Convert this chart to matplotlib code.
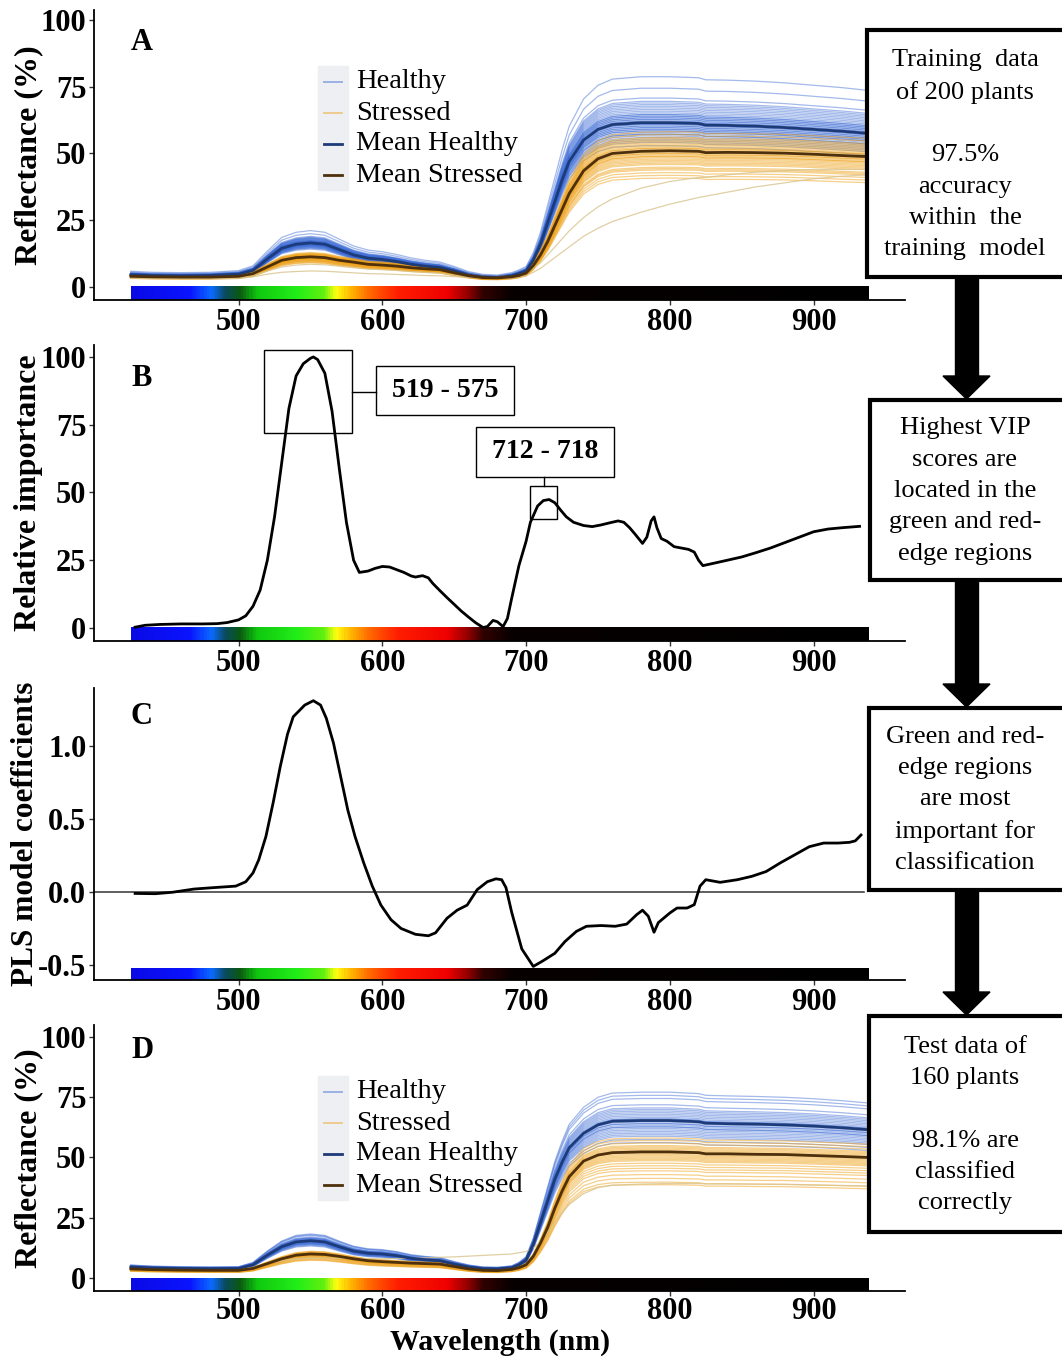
import numpy as np
import matplotlib
matplotlib.use("Agg")
import matplotlib.pyplot as plt
from matplotlib.colors import LinearSegmentedColormap
from matplotlib.patches import Rectangle, Polygon

W, H = 1062, 1356
SERIF = "Liberation Serif"

# ---------------- data ----------------
wl_refl = [425, 440, 460, 480, 500, 510, 520, 530, 540, 550, 560, 570, 580, 590, 600,
           610, 620, 630, 640, 650, 660, 670, 680, 690, 695, 700, 705, 710, 715, 720,
           725, 730, 740, 750, 760, 780, 800, 820, 825, 840, 860, 880, 900, 920, 938]

# Panel A (training data)
mean_healthy_A = [4.6, 4.3, 4.2, 4.3, 4.8, 6.2, 10.5, 14.5, 16.0, 16.5, 16.0, 14.0, 12.0, 10.8, 10.3,
                  9.5, 8.5, 7.8, 7.3, 6.0, 4.5, 3.7, 3.5, 4.2, 5.0, 6.0, 10.0, 16.0, 24.0, 32.0,
                  40.0, 47.0, 55.0, 59.0, 60.8, 61.5, 61.5, 61.2, 60.6, 60.5, 60.2, 59.7, 59.0, 58.3, 57.5]
mean_stressed_A = [4.0, 3.8, 3.7, 3.7, 4.0, 5.0, 7.5, 10.0, 11.0, 11.3, 11.0, 10.0, 9.3, 8.5, 8.2,
                   7.8, 7.2, 6.8, 6.5, 5.3, 4.2, 3.5, 3.4, 3.8, 4.3, 5.2, 8.0, 12.0, 17.0, 23.0,
                   29.0, 35.0, 43.5, 48.0, 50.0, 50.8, 51.0, 50.8, 50.3, 50.4, 50.3, 50.1, 49.7, 49.2, 48.8]
stressed_outlier1_A = [3.3, 3.2, 3.1, 3.1, 3.2, 3.8, 4.8, 5.5, 5.8, 6.0, 5.9, 5.6, 5.3, 5.0, 4.9,
                       4.7, 4.5, 4.3, 4.2, 3.9, 3.6, 3.4, 3.3, 3.4, 3.7, 4.2, 5.5, 7.0, 9.0, 11.0,
                       13.0, 15.0, 19.0, 22.0, 24.5, 28.0, 31.0, 33.5, 34.0, 35.5, 37.5, 39.0, 40.5, 41.5, 42.0]
stressed_outlier2_A = [3.6, 3.4, 3.3, 3.3, 3.5, 4.3, 6.0, 7.5, 8.2, 8.5, 8.3, 7.8, 7.2, 6.7, 6.5,
                       6.2, 5.8, 5.5, 5.2, 4.5, 3.8, 3.3, 3.2, 3.5, 4.0, 5.0, 7.0, 9.0, 12.0, 15.0,
                       18.0, 21.0, 26.0, 30.0, 33.0, 37.0, 39.5, 41.0, 41.0, 42.0, 43.0, 43.5, 44.0, 44.0, 44.0]
# per-plant level relative to the group mean
healthy_factors_A = [0.86, 0.88, 0.89, 0.90, 0.91, 0.92, 0.93, 0.93, 0.94, 0.95, 0.95, 0.96, 0.96,
                     0.97, 0.97, 0.98, 0.98, 0.99, 0.99, 1.00, 1.00, 1.00, 1.01, 1.01, 1.02, 1.02,
                     1.03, 1.03, 1.04, 1.04, 1.05, 1.05, 1.06, 1.07, 1.08, 1.09, 1.10, 1.11, 1.12,
                     1.13, 1.15, 1.21, 1.28]
stressed_factors_A = [0.80, 0.82, 0.84, 0.86, 0.87, 0.88, 0.90, 0.91, 0.92, 0.93, 0.94, 0.95, 0.96,
                      0.96, 0.97, 0.98, 0.98, 0.99, 1.00, 1.00, 1.01, 1.02, 1.02, 1.03, 1.04, 1.05,
                      1.06, 1.07, 1.08, 1.09, 1.10, 1.12, 1.14]

# Panel D (test data)
mean_healthy_D = [4.6, 4.2, 4.0, 3.9, 4.0, 5.5, 9.5, 13.0, 15.0, 15.5, 15.0, 13.0, 11.2, 10.3, 10.0,
                  9.3, 8.2, 7.6, 7.2, 5.8, 4.6, 3.9, 3.8, 4.3, 5.5, 7.5, 14.0, 23.0, 32.0, 41.0,
                  48.0, 54.0, 60.0, 63.5, 65.0, 65.3, 65.3, 64.8, 64.2, 64.0, 63.8, 63.5, 63.0, 62.3, 61.5]
mean_stressed_D = [3.8, 3.5, 3.3, 3.2, 3.2, 4.0, 6.0, 8.0, 9.5, 10.0, 9.8, 9.0, 8.0, 7.2, 6.8,
                   6.5, 6.2, 6.0, 5.8, 4.8, 3.8, 3.2, 3.1, 3.6, 4.3, 5.5, 9.0, 14.5, 21.0, 29.0,
                   36.0, 42.0, 48.5, 51.0, 52.0, 52.3, 52.3, 52.0, 51.5, 51.5, 51.3, 51.2, 50.8, 50.4, 50.0]
stressed_outlier_D = [3.6, 3.5, 3.5, 3.6, 3.8, 4.5, 6.0, 7.2, 8.0, 8.3, 8.3, 8.2, 8.1, 8.0, 8.0,
                      8.1, 8.2, 8.4, 8.6, 8.8, 9.1, 9.4, 9.7, 10.0, 10.5, 11.0, 12.5, 15.0, 19.0, 23.0,
                      27.0, 30.5, 35.0, 37.5, 38.5, 39.0, 39.2, 39.2, 39.0, 39.0, 38.9, 38.8, 38.6, 38.4, 38.2]
healthy_factors_D = [0.86, 0.88, 0.90, 0.91, 0.92, 0.93, 0.94, 0.95, 0.96, 0.96, 0.97, 0.98, 0.98,
                     0.99, 1.00, 1.00, 1.01, 1.01, 1.02, 1.03, 1.04, 1.05, 1.06, 1.07, 1.08, 1.10,
                     1.14, 1.16, 1.18]
stressed_factors_D = [0.74, 0.76, 0.79, 0.82, 0.85, 0.87, 0.89, 0.91, 0.93, 0.94, 0.95, 0.96, 0.97,
                      0.98, 0.99, 1.00, 1.00, 1.01, 1.02, 1.03, 1.04, 1.05, 1.07, 1.09, 1.11]

# Panel B (VIP relative importance)
wl_vip = [428, 435, 445, 460, 475, 485, 492, 500, 505, 510, 515, 520, 525, 530, 535, 540, 545, 550,
          552, 555, 560, 565, 570, 575, 580, 584, 590, 595, 600, 605, 610, 615, 620, 623, 628, 632,
          635, 640, 645, 650, 655, 660, 665, 670, 673, 677, 680, 684, 687, 690, 695, 700, 703, 708,
          712, 716, 720, 724, 728, 733, 740, 746, 752, 759, 764, 768, 772, 776, 781, 784, 787, 789,
          791, 794, 798, 803, 808, 813, 817, 820, 823, 829, 840, 850, 860, 870, 880, 890, 900, 910,
          920, 932]
vip = [0.3, 1.0, 1.3, 1.5, 1.5, 1.6, 2.0, 3.0, 4.5, 8.0, 14.0, 25.0, 41.0, 61.0, 81.0, 93.0, 97.5, 99.5,
       100.0, 99.0, 94.0, 80.0, 59.0, 39.0, 25.0, 20.5, 21.0, 22.0, 22.7, 22.5, 21.5, 20.5, 19.2, 18.8,
       19.3, 18.5, 16.5, 13.8, 11.2, 8.7, 6.2, 4.0, 1.9, 0.2, 0.5, 2.8, 2.3, 0.5, 3.5, 11.0, 23.0, 32.0,
       39.0, 45.0, 47.0, 47.4, 46.2, 43.5, 41.0, 39.0, 37.8, 37.4, 38.0, 38.9, 39.5, 39.0, 37.0, 34.5,
       31.2, 33.5, 39.5, 41.0, 37.0, 33.0, 32.0, 30.0, 29.5, 29.0, 28.0, 25.0, 23.0, 23.7, 25.0, 26.2,
       27.8, 29.5, 31.5, 33.5, 35.5, 36.5, 37.0, 37.5]

# Panel C (PLS coefficients)
wl_pls = [428, 442, 454, 469, 483, 498, 505, 510, 514, 519, 524, 529, 534, 538, 546, 552, 557, 561,
          566, 571, 576, 581, 587, 593, 599, 606, 613, 623, 632, 637, 645, 652, 659, 666, 673, 679,
          683, 686, 690, 697, 705, 712, 720, 727, 735, 742, 752, 762, 770, 777, 781, 785, 789, 792,
          800, 805, 812, 817, 821, 825, 835, 847, 857, 867, 877, 887, 897, 907, 917, 925, 929, 933]
pls = [-0.01, -0.012, -0.002, 0.02, 0.03, 0.04, 0.07, 0.13, 0.22, 0.38, 0.61, 0.86, 1.08, 1.2, 1.28,
       1.31, 1.28, 1.19, 1.02, 0.79, 0.56, 0.38, 0.2, 0.04, -0.09, -0.19, -0.25, -0.29, -0.30, -0.28,
       -0.18, -0.125, -0.09, 0.016, 0.07, 0.09, 0.084, 0.03, -0.14, -0.39, -0.51, -0.47, -0.42, -0.34,
       -0.27, -0.235, -0.23, -0.235, -0.22, -0.155, -0.125, -0.166, -0.276, -0.21, -0.144, -0.11,
       -0.11, -0.087, 0.04, 0.084, 0.066, 0.084, 0.107, 0.14, 0.2, 0.255, 0.31, 0.335, 0.335, 0.34,
       0.35, 0.39]

x_ticks = [500, 600, 700, 800, 900]
refl_ticks = [0, 25, 50, 75, 100]
vip_ticks = [0, 25, 50, 75, 100]
pls_ticks = [-0.5, 0.0, 0.5, 1.0]
pls_ticklabels = ["-0.5", "0.0", "0.5", "1.0"]
legend_labels = ["Healthy", "Stressed", "Mean Healthy", "Mean Stressed"]
bar_range = (425, 938)

box_texts = [
    "Training  data\nof 200 plants\n\n97.5%\naccuracy\nwithin  the\ntraining  model",
    "Highest VIP\nscores are\nlocated in the\ngreen and red-\nedge regions",
    "Green and red-\nedge regions\nare most\nimportant for\nclassification",
    "Test data of\n160 plants\n\n98.1% are\nclassified\ncorrectly",
]

# ---------------- style ----------------
C_H = "#3566d4"
C_S = "#eea015"
C_MH = "#1d3b78"
C_MS = "#4e300c"
spec_stops = [(425, "#0a0ae6"), (465, "#0a14ff"), (480, "#0a6cff"), (490, "#0a4a5a"),
              (500, "#0a5a10"), (512, "#10c810"), (540, "#22ee18"), (558, "#60f010"),
              (567, "#ffff10"), (578, "#ffb000"), (592, "#ff6000"), (610, "#ff1e00"),
              (645, "#ee0000"), (658, "#9a0000"), (670, "#300000"), (690, "#080000"),
              (938, "#000000")]
spec_cmap = LinearSegmentedColormap.from_list(
    "spec", [((w - 425) / (938 - 425), c) for w, c in spec_stops])

XLIM = (399.4, 963.6)

fig = plt.figure(figsize=(W / 100, H / 100), dpi=100)


def add_ax(top, bottom, left=94, right=905):
    return fig.add_axes([left / W, 1 - bottom / H, (right - left) / W, (bottom - top) / H])


def style(ax, ylim, yticks, yticklabels=None, xpad=2):
    ax.set_xlim(*XLIM)
    ax.set_ylim(*ylim)
    for s in ("top", "right"):
        ax.spines[s].set_visible(False)
    for s in ("left", "bottom"):
        ax.spines[s].set_linewidth(1.3)
        ax.spines[s].set_color("black")
    ax.set_xticks(x_ticks)
    ax.set_yticks(yticks)
    if yticklabels is not None:
        ax.set_yticklabels(yticklabels)
    ax.tick_params(length=3.5, width=1.0, color="#333333", pad=2)
    ax.tick_params(axis="x", pad=xpad)
    for lab in ax.get_xticklabels() + ax.get_yticklabels():
        lab.set_fontfamily(SERIF)
        lab.set_fontweight("bold")
        lab.set_fontsize(22)


def spectral_bar(ax, y0, y1):
    grad = np.linspace(bar_range[0], bar_range[1], 800)[None, :]
    ax.imshow(grad, cmap=spec_cmap, aspect="auto", extent=[bar_range[0], bar_range[1], y0, y1],
              vmin=bar_range[0], vmax=bar_range[1], zorder=1, interpolation="bilinear")


def refl_panel(ax, mh, ms, hf, sf, outliers):
    wl = np.array(wl_refl)
    for f in hf:
        ax.plot(wl, np.array(mh) * f, color=C_H, lw=0.9, alpha=0.45, zorder=2)
    for f in sf:
        ax.plot(wl, np.array(ms) * f, color=C_S, lw=0.9, alpha=0.5, zorder=3)
    for o in outliers:
        ax.plot(wl, o, color="#d9c48e", lw=0.9, alpha=0.8, zorder=3)
    ax.plot(wl, mh, color=C_MH, lw=2.0, zorder=4)
    ax.plot(wl, ms, color=C_MS, lw=2.0, zorder=4)


def ylabel(ax, text, x_px=43, size=23):
    ax.set_ylabel(text, fontfamily=SERIF, fontweight="bold", fontsize=size)
    ax.yaxis.set_label_coords((x_px - 94) / (905 - 94), 0.5)


# ---- Panel A ----
axA = add_ax(10, 300)
refl_panel(axA, mean_healthy_A, mean_stressed_A, healthy_factors_A, stressed_factors_A,
           [stressed_outlier1_A, stressed_outlier2_A])
spectral_bar(axA, -4.87, 0)
style(axA, (-4.87, 103.7), refl_ticks)
ylabel(axA, "Reflectance (%)")

# ---- Panel B ----
axB = add_ax(345, 641)
axB.plot(wl_vip, vip, color="black", lw=2.0, zorder=3)
spectral_bar(axB, -4.8, 0)
style(axB, (-4.8, 104.4), vip_ticks)
ylabel(axB, "Relative importance")
# annotations
axB.add_patch(Rectangle((517.5, 72.0), 578.7 - 517.5, 102.6 - 72.0, fill=False, lw=1.0,
                        ec="black", zorder=4))
axB.plot([578.7, 595.5], [87.1, 87.1], color="black", lw=1.0, zorder=4)
axB.add_patch(Rectangle((595.5, 78.6), 691.6 - 595.5, 96.7 - 78.6, fill=False, lw=1.0,
                        ec="black", zorder=4))
axB.text((595.5 + 691.6) / 2, 87.6, "519 - 575", ha="center", va="center", fontfamily=SERIF,
         fontweight="bold", fontsize=20, zorder=5)
axB.add_patch(Rectangle((702.8, 40.2), 721.6 - 702.8, 52.4 - 40.2, fill=False, lw=1.0,
                        ec="black", zorder=4))
axB.plot([712.2, 712.2], [52.4, 55.7], color="black", lw=1.0, zorder=4)
axB.add_patch(Rectangle((665.0, 55.7), 761.0 - 665.0, 74.2 - 55.7, fill=False, lw=1.0,
                        ec="black", zorder=4))
axB.text(713.0, 65.2, "712 - 718", ha="center", va="center", fontfamily=SERIF,
         fontweight="bold", fontsize=20, zorder=5)

# ---- Panel C ----
axC = add_ax(688, 980)
axC.plot(wl_pls, pls, color="black", lw=2.0, zorder=3)
axC.plot([XLIM[0], 935], [0, 0], color="#333333", lw=1.1, zorder=2)
spectral_bar(axC, -0.603, -0.525)
style(axC, (-0.603, 1.397), pls_ticks, pls_ticklabels)
ylabel(axC, "PLS model coefficients", x_px=40, size=22.5)

# ---- Panel D ----
axD = add_ax(1025, 1291)
refl_panel(axD, mean_healthy_D, mean_stressed_D, healthy_factors_D, stressed_factors_D,
           [stressed_outlier_D])
spectral_bar(axD, -5.35, 0)
style(axD, (-5.35, 104.9), refl_ticks, xpad=1)
ylabel(axD, "Reflectance (%)")

# ---- overlay: letters, legends, flow boxes, x title ----
ov = fig.add_axes([0, 0, 1, 1], zorder=10)
ov.set_xlim(0, W)
ov.set_ylim(H, 0)
ov.axis("off")

ov.text(500, 1349.5, "Wavelength (nm)", ha="center", va="baseline", fontfamily=SERIF,
        fontweight="bold", fontsize=21.5)

for letter, y in zip("ABCD", [42, 379, 716, 1051]):
    ov.text(142, y, letter, ha="center", va="center", fontfamily=SERIF, fontweight="bold",
            fontsize=22)

key_styles = [(C_H, 1.4, 0.45), (C_S, 1.4, 0.45), (C_MH, 2.0, 1.0), (C_MS, 2.0, 1.0)]
for top in (66, 1076):
    ov.add_patch(Rectangle((318, top), 30, 124, color="#eeeff2", zorder=1))
    for i, (lab, (c, lw, a)) in enumerate(zip(legend_labels, key_styles)):
        yy = top + 16 + 31 * i
        ov.plot([324, 342], [yy, yy], color=c, lw=lw, alpha=a, zorder=2)
        ov.text(356, yy, lab, ha="left", va="center", fontfamily=SERIF, fontsize=20.5, zorder=2)

boxes = [(867, 30, 277), (870, 400, 580), (869, 708, 890), (869, 1016, 1232)]
for (x0, y0, y1), txt in zip(boxes, box_texts):
    ov.add_patch(Rectangle((x0, y0), 1070 - x0, y1 - y0, fill=True, fc="white", ec="black",
                           lw=3.0, zorder=3))
    ov.text(965, (y0 + y1) / 2 + 1, txt, ha="center", va="center", multialignment="center",
            fontfamily=SERIF, fontsize=19, linespacing=1.55, zorder=4)

for (xa, ya0, ya1), (xb, yb0, yb1) in zip(boxes[:-1], boxes[1:]):
    head_top = yb0 - 24
    ov.add_patch(Rectangle((955, ya1), 23, head_top - ya1 + 1, color="black", zorder=2))
    ov.add_patch(Polygon([(943, head_top), (990, head_top), (966.5, yb0 - 1)], closed=True,
                         color="black", zorder=2))

fig.savefig("out.png", dpi=100)
